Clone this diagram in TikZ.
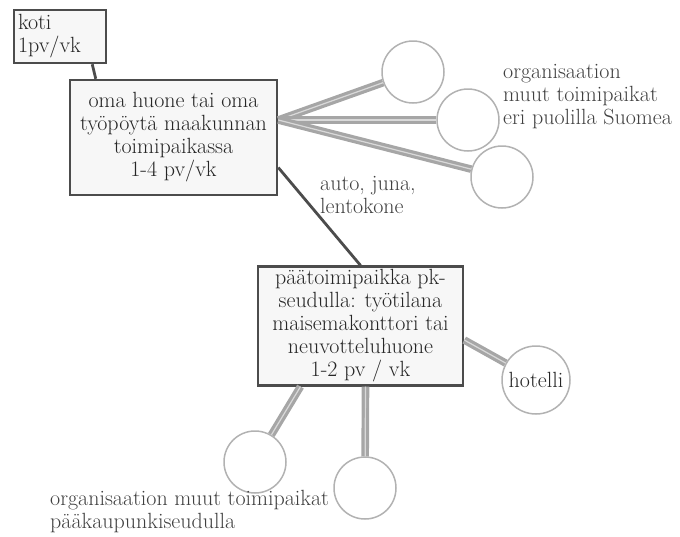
\documentclass[tikz,border=0pt]{standalone}
\usepackage{fontspec}
\usetikzlibrary{positioning}
\tikzset{place/.style = {rectangle, draw=black!70, line width=2.5pt, fill=black!3,
    text=black!85, align=center, inner sep=3pt},
  site/.style = {circle, draw=black!30, line width=1.5pt, fill=white,
    minimum size=62pt, inner sep=0pt, text=black!85},
  link/.style = {draw=black!35, line width=3.2pt, double=black!15, double distance=1.2pt},
  route/.style = {draw=black!70, line width=2.8pt},
  note/.style = {anchor=west, align=left, text=black!75, inner sep=0pt}}

\begin{document}
\begin{tikzpicture}[x=1pt, y=-1pt, font=\fontsize{22}{23}\selectfont]
  \useasboundingbox (0,0) rectangle (680,536);

  \node[place, align=left, minimum width=92pt, minimum height=53pt, text width=84pt] (kotiBox) at (60,36.5) {koti\\1pv/vk};

  \node[place, minimum width=207pt, minimum height=115pt] (mainBox) at (173.5,137.5)
    {oma huone tai oma\\työpöytä maakunnan\\toimipaikassa\\1-4 pv/vk};

  \node[place, minimum width=205pt, minimum height=118pt] (hqBox) at (360.5,326)
    {päätoimipaikka pk-\\seudulla: työtilana\\maisemakonttori tai\\neuvotteluhuone\\1-2 pv / vk};

  \node[site] (site1) at (413,72) {};
  \node[site] (site2) at (468,120) {};
  \node[site] (site3) at (502,177) {};
  \node[site, minimum size=68pt] (hotel) at (536,380) {hotelli};
  \node[site] (pk1) at (255,462) {};
  \node[site] (pk2) at (365,488) {};

  \node[note] (siteLabel) at (503,97) {organisaation\\muut toimipaikat\\eri puolilla Suomea};
  \node[note] (travelLabel) at (320,195) {auto, juna,\\lentokone};
  \node[note] (pkLabel) at (50,512) {organisaation muut toimipaikat\\pääkaupunkiseudulla};

  \draw[route] ([xshift=-15pt]kotiBox.south east) -- ([xshift=27pt]mainBox.north west);
  \draw[route] ([yshift=-30pt]mainBox.east) -- (hqBox.north);

  \draw[link] (mainBox.east |- site2) -- (site1);
  \draw[link] (mainBox.east |- site2) -- (site2);
  \draw[link] (mainBox.east |- site2) -- (site3);
  \draw[link] ([yshift=-14pt]hqBox.east) -- (hotel);
  \draw[link] ([xshift=-60pt]hqBox.south) -- (pk1);
  \draw[link] ([xshift=5pt]hqBox.south) -- (pk2);
\end{tikzpicture}
\end{document}
